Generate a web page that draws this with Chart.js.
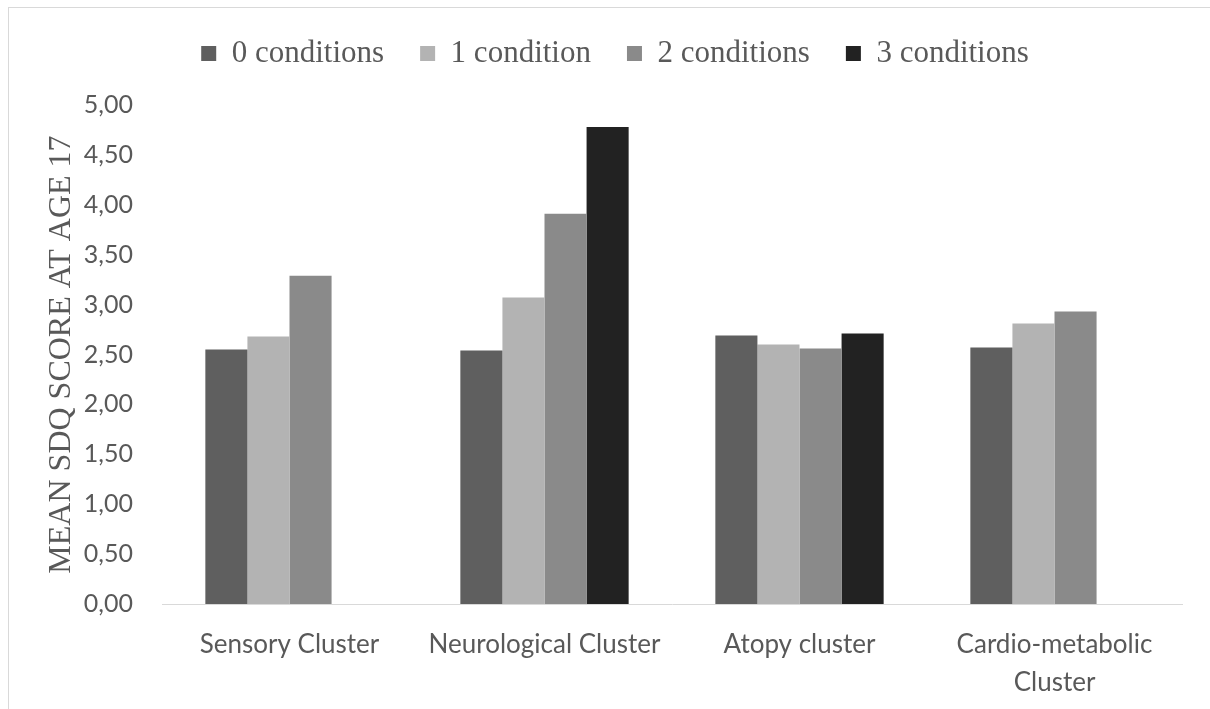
<!DOCTYPE html>
<html>
<head>
<meta charset="utf-8">
<script src="https://cdn.jsdelivr.net/npm/chart.js@4.4.1/dist/chart.umd.min.js"></script>
<style>
html, body { margin: 0; padding: 0; background: #fff; overflow: hidden; }
#frame { position: absolute; left: 8px; top: 7px; width: 1300px; height: 800px; border: 1px solid #d9d9d9; }
#wrap { position: absolute; left: 0; top: 0; width: 1210px; height: 709px; }
</style>
</head>
<body>
<div id="frame"></div>
<div id="wrap"><canvas id="myChart"></canvas></div>
<script>
const clusters = ["Sensory Cluster", "Neurological Cluster", "Atopy cluster", ["Cardio-metabolic", "Cluster"]];
const seriesNames = ["0 conditions", "1 condition", "2 conditions", "3 conditions"];
const cond0 = [2.55, 2.54, 2.69, 2.57];
const cond1 = [2.68, 3.07, 2.60, 2.81];
const cond2 = [3.29, 3.91, 2.56, 2.93];
const cond3 = [null, 4.78, 2.71, null];
const colors = ["#5f5f5f", "#b3b3b3", "#8a8a8a", "#222222"];
const yTicks = [0, 0.5, 1, 1.5, 2, 2.5, 3, 3.5, 4, 4.5, 5];

const ctx = document.getElementById("myChart");
const series = [cond0, cond1, cond2, cond3];

const myChart = new Chart(ctx, {
    type: 'bar',
    data: {
        labels: clusters,
        datasets: series.map((vals, i) => ({
            label: seriesNames[i],
            data: vals,
            backgroundColor: colors[i],
            borderWidth: 0,
            categoryPercentage: 0.66,
            barPercentage: 1.0
        }))
    },
    options: {
        responsive: true,
        maintainAspectRatio: false,
        animation: false,
        layout: { padding: { top: 2, left: 48, right: 28, bottom: 0 } },
        scales: {
            x: {
                grid: { display: false, drawTicks: false },
                border: { display: true, color: '#d9d9d9', width: 1 },
                ticks: {
                    color: '#595959',
                    padding: 21,
                    maxRotation: 0,
                    autoSkip: false,
                    font: { family: 'Lato', size: 26, lineHeight: 1.48 }
                },
                afterFit: (scale) => { scale.height = 105; }
            },
            // empty spacer between legend and plot
            xTop: {
                type: 'category',
                position: 'top',
                grid: { display: false, drawTicks: false },
                border: { display: false },
                ticks: { display: false },
                afterFit: (scale) => { scale.height = 26; }
            },
            y: {
                min: 0,
                max: 5,
                grid: { display: false, drawTicks: false },
                border: { display: false },
                afterBuildTicks: (scale) => { scale.ticks = yTicks.map(v => ({ value: v })); },
                ticks: {
                    color: '#595959',
                    padding: 29,
                    font: { family: 'Lato', size: 25 },
                    callback: (v) => Number(v).toFixed(2).replace('.', ',')
                },
                title: {
                    display: true,
                    text: 'MEAN SDQ SCORE AT AGE 17',
                    color: '#595959',
                    padding: { top: -6, bottom: 0 },
                    font: { family: 'Liberation Serif', size: 32 }
                },
                afterFit: (scale) => { scale.width = 114; }
            }
        },
        plugins: {
            legend: {
                display: true,
                position: 'top',
                labels: {
                    color: '#595959',
                    boxWidth: 15,
                    boxHeight: 15,
                    padding: 36,
                    font: { family: 'Liberation Serif', size: 31 }
                }
            },
            tooltip: { enabled: false }
        }
    }
});
</script>
</body>
</html>
